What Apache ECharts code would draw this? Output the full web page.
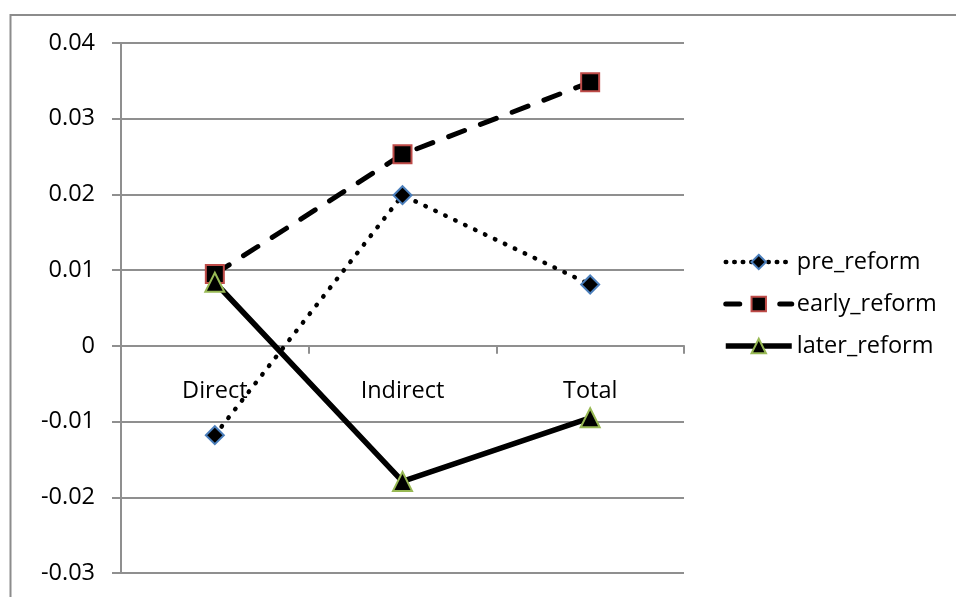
<!DOCTYPE html>
<html>
<head>
<meta charset="utf-8">
<script src="https://cdn.jsdelivr.net/npm/echarts@6/dist/echarts.min.js"></script>
<style>
  html, body { margin: 0; padding: 0; background: #fff; }
  #chart { width: 956px; height: 597px; }
</style>
</head>
<body>
<div id="chart"></div>
<script>
// Effect categories
const categories = ['Direct', 'Indirect', 'Total'];

// Estimated effects by reform period
const preReform = [-0.0118, 0.0199, 0.0081];
const earlyReform = [0.0095, 0.0253, 0.0348];
const laterReform = [0.0084, -0.0179, -0.0095];

// Value axis range
const yMin = -0.03;
const yMax = 0.04;
const yStep = 0.01;

const FONT = '"Open Sans", "Noto Sans", sans-serif';
const FONT_SIZE = 23.5;
const GRID_COLOR = '#8f8f8f';

const GRID_TOP = 43;
const GRID_BOTTOM = 24;
const CHART_H = 597;
// Lift the category axis from the bottom edge up to the zero line
const plotH = CHART_H - GRID_TOP - GRID_BOTTOM;
const zeroLift = plotH * (0 - yMin) / (yMax - yMin);

const chart = echarts.init(document.getElementById('chart'), null, { renderer: 'canvas' });

chart.setOption({
  animation: false,
  backgroundColor: '#fff',
  graphic: [{
    type: 'rect',
    shape: { x: 10.5, y: 15, width: 1000, height: 700 },
    style: { fill: 'none', stroke: '#8c8c8c', lineWidth: 2 },
    silent: true
  }],
  grid: {
    left: 121, top: GRID_TOP, right: 272, bottom: GRID_BOTTOM,
    containLabel: false, outerBoundsMode: 'none'
  },
  legend: {
    orient: 'vertical',
    left: 718,
    top: 245,
    itemWidth: 66,
    itemHeight: 18,
    itemGap: 18,
    textStyle: { fontFamily: FONT, fontSize: FONT_SIZE, color: '#000', lineHeight: 23 },
    data: [
      { name: 'pre_reform', lineStyle: { width: 4.5, type: [0.5, 8], cap: 'round' } },
      { name: 'early_reform', lineStyle: { width: 5, type: [14, 40], cap: 'round' } },
      { name: 'later_reform', lineStyle: { width: 5.5, type: 'solid' } }
    ]
  },
  xAxis: {
    type: 'category',
    data: categories,
    boundaryGap: true,
    offset: -zeroLift,
    axisLine: { onZero: false, lineStyle: { color: GRID_COLOR, width: 2 } },
    axisTick: { show: true, length: 8, lineStyle: { color: GRID_COLOR, width: 2 } },
    axisLabel: { margin: 33, fontFamily: FONT, fontSize: FONT_SIZE, color: '#000' },
    splitLine: { show: false }
  },
  yAxis: {
    type: 'value',
    min: yMin,
    max: yMax,
    interval: yStep,
    axisLine: { show: true, lineStyle: { color: GRID_COLOR, width: 2 } },
    axisTick: { show: true, length: 9, lineStyle: { color: GRID_COLOR, width: 2 } },
    axisLabel: {
      margin: 26,
      fontFamily: FONT,
      fontSize: FONT_SIZE,
      color: '#000',
      formatter: v => (Math.abs(v) < 1e-9 ? '0' : parseFloat(v.toFixed(2)).toString())
    },
    splitLine: { show: true, lineStyle: { color: GRID_COLOR, width: 2 } }
  },
  series: [
    {
      name: 'pre_reform',
      type: 'line',
      data: preReform,
      symbol: 'diamond',
      symbolSize: 18,
      itemStyle: { color: '#000', borderColor: '#4a7ebb', borderWidth: 2 },
      lineStyle: { color: '#000', width: 4.5, type: [0.5, 10.5], cap: 'round' },
      z: 2
    },
    {
      name: 'early_reform',
      type: 'line',
      data: earlyReform,
      symbol: 'rect',
      symbolSize: 18,
      itemStyle: { color: '#000', borderColor: '#be4b48', borderWidth: 2 },
      lineStyle: { color: '#000', width: 5, type: [17, 17], cap: 'round' },
      z: 3
    },
    {
      name: 'later_reform',
      type: 'line',
      data: laterReform,
      symbol: 'triangle',
      symbolSize: 19,
      itemStyle: { color: '#000', borderColor: '#98b954', borderWidth: 2 },
      lineStyle: { color: '#000', width: 5.5, type: 'solid' },
      z: 4
    }
  ]
});
</script>
</body>
</html>
